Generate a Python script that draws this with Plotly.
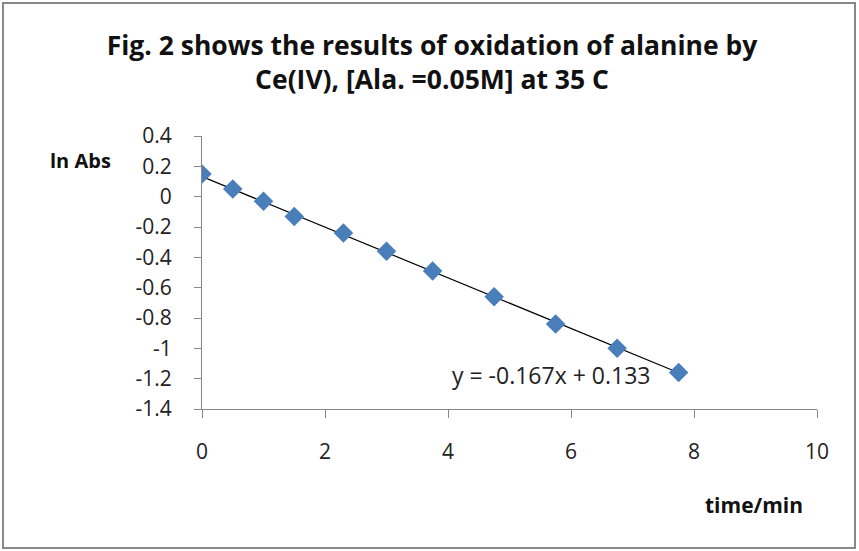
import plotly.graph_objects as go

time_min = [0, 0.5, 1, 1.5, 2.3, 3, 3.75, 4.75, 5.75, 6.75, 7.75]
ln_abs = [0.15, 0.05, -0.03, -0.13, -0.24, -0.36, -0.49, -0.66, -0.84, -1.0, -1.16]
y_tickvals = [0.4, 0.2, 0, -0.2, -0.4, -0.6, -0.8, -1, -1.2, -1.4]
y_ticktext = ["0.4", "0.2", "0", "-0.2", "-0.4", "-0.6", "-0.8", "-1", "-1.2", "-1.4"]
x_tickvals = [0, 2, 4, 6, 8, 10]
x_ticktext = ["0", "2", "4", "6", "8", "10"]
trend_slope = -0.167
trend_intercept = 0.133

FONT = "Open Sans, sans-serif"

trend_x = [min(time_min), max(time_min)]
trend_y = [trend_slope * v + trend_intercept for v in trend_x]

fig = go.Figure()
fig.add_trace(go.Scatter(x=trend_x, y=trend_y, mode="lines",
                         line=dict(color="black", width=1.2), showlegend=False))
fig.add_trace(go.Scatter(x=time_min, y=ln_abs, mode="markers",
                         marker=dict(symbol="diamond", size=15, color="#4a7ebb"),
                         showlegend=False))

W, H = 859, 551
L, R, T, B = 202, 42, 136, 142
pw, ph = W - L - R, H - T - B

def px(xp):
    return (xp - L) / pw

def py(yp):
    return (H - B - yp) / ph

fig.update_layout(
    width=W, height=H,
    margin=dict(l=L, r=R, t=T, b=B),
    paper_bgcolor="white", plot_bgcolor="white",
    font=dict(family=FONT, size=21, color="#222"),
    title=dict(text="<b>Fig. 2 shows the results of oxidation of alanine by<br>Ce(IV), [Ala. =0.05M] at 35 C</b>",
               x=432 / W, xanchor="center", y=1 - 55 / H, yanchor="top",
               font=dict(family=FONT, size=26.5, color="#111")),
    xaxis=dict(range=[0, 10], tickvals=x_tickvals, ticktext=x_ticktext,
               showgrid=False, zeroline=False, showline=True, linecolor="#888",
               ticks="outside", ticklen=8, tickcolor="#888", ticklabelstandoff=16,
               tickfont=dict(size=21)),
    yaxis=dict(range=[-1.4, 0.4], tickvals=y_tickvals, ticktext=y_ticktext,
               showgrid=False, zeroline=False, showline=True, linecolor="#888",
               ticks="outside", ticklen=7, tickcolor="#888", ticklabelstandoff=18,
               tickfont=dict(size=21)),
    shapes=[dict(type="rect", xref="paper", yref="paper",
                 x0=px(3), x1=px(855), y0=py(548), y1=py(3),
                 line=dict(color="#888", width=2))],
    annotations=[
        dict(text="<b>ln Abs</b>", xref="paper", yref="paper", x=px(80), y=py(160),
             xanchor="center", yanchor="middle", showarrow=False,
             font=dict(family=FONT, size=20, color="#111")),
        dict(text="<b>time/min</b>", xref="paper", yref="paper", x=px(754), y=py(505),
             xanchor="center", yanchor="middle", showarrow=False,
             font=dict(family=FONT, size=21, color="#111")),
        dict(text=f"y = {trend_slope}x + {trend_intercept}", xref="x", yref="y",
             x=(551 - L) / pw * 10, y=0.4 - (375 - T) / ph * 1.8,
             xanchor="center", yanchor="middle", showarrow=False,
             font=dict(family=FONT, size=23, color="#222")),
    ],
)

fig.write_html("out.html", config={"displayModeBar": False},
               post_script="document.body.style.margin='0';")
